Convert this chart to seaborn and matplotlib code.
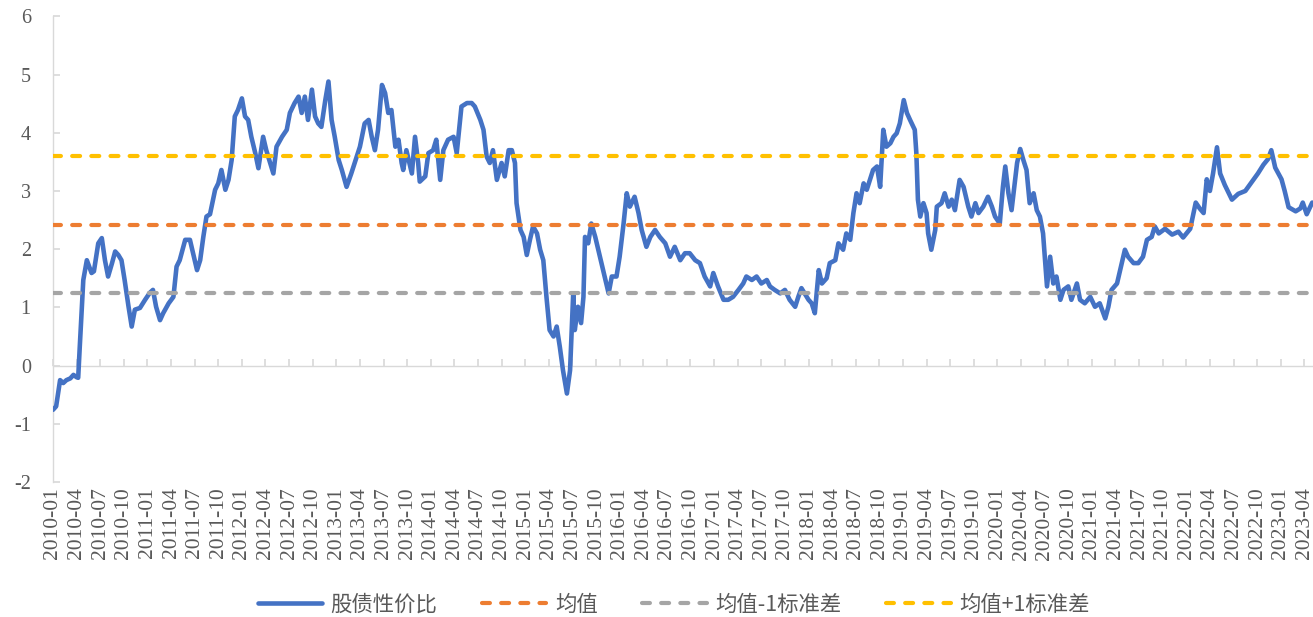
import matplotlib
matplotlib.use("Agg")
import matplotlib.pyplot as plt
import seaborn as sns

# months since 2010-01 and the ratio
t_month = [
    0.0, 0.4, 0.9, 1.3, 1.7, 2.2, 2.6, 3.0, 3.2, 3.4, 3.85, 4.3, 4.9, 5.2, 5.75, 6.2, 6.6, 7.0, 7.5, 7.9,
    8.3, 8.7, 9.1, 9.6, 10.0, 10.4, 11.05, 11.7, 12.3, 12.7, 13.1, 13.6, 14.0, 14.7, 15.3, 15.7, 16.1, 16.8,
    17.4, 17.8, 18.3, 18.7, 19.1, 19.5, 19.95,
    20.6, 21.0, 21.4, 21.9, 22.3, 22.7, 23.1, 23.5, 24.0, 24.4, 24.8, 25.2, 25.7, 26.1, 26.7, 27.1, 27.6,
    28.0, 28.4, 29.1, 29.7, 30.1, 30.7, 31.2, 31.6, 32.0, 32.4, 32.9, 33.3, 33.7, 34.1, 34.6, 35.0, 35.4,
    35.8, 36.3, 36.7, 37.3, 37.9, 38.6, 39.0, 39.6, 40.1,
    40.5, 40.9, 41.3, 41.8, 42.2, 42.6, 43.0, 43.5, 43.9, 44.3, 44.5, 44.9, 45.6, 46.0, 46.4, 46.6, 47.3,
    47.7, 48.3, 48.7, 49.2, 49.6, 50.2, 50.9, 51.3, 51.9, 52.6, 53.2, 53.6, 54.3, 54.7, 55.1, 55.5, 55.9,
    56.4, 57.0, 57.4, 57.9, 58.3, 58.7, 58.9, 59.4, 59.8, 60.2, 60.6,
    61.0, 61.5, 61.9, 62.3, 62.7, 63.1, 63.6, 64.0, 64.4, 64.8, 65.3, 65.7, 66.1, 66.3, 66.7, 67.1, 67.4,
    67.6, 68.0, 68.4, 68.9, 69.5, 70.1, 70.6, 71.0, 71.6, 72.0, 72.5, 72.9, 73.3, 73.9,
    74.4, 74.8, 75.4, 75.9, 76.5, 77.1, 77.8, 78.4, 79.0, 79.7, 80.3, 80.9, 81.6, 82.2, 82.8, 83.5, 83.9,
    84.5, 85.2, 85.8, 86.4, 87.1, 87.7, 88.1, 88.8, 89.4, 90.0, 90.7, 91.1, 91.7, 92.4, 93.0, 93.6, 94.3,
    94.7, 95.1, 95.5, 96.0, 96.4, 96.8, 97.3, 97.7, 98.3, 98.7,
    99.4, 99.8, 100.4, 100.8, 101.3, 101.7, 102.1, 102.5, 103.0, 103.4, 103.8, 104.2, 104.7, 105.1, 105.5,
    105.9, 106.4, 106.8, 107.2, 107.6, 108.1, 108.5, 108.9, 109.5, 109.7, 109.9, 110.2, 110.6, 111.0, 111.2,
    111.6, 112.1, 112.3, 112.9, 113.3, 113.8, 114.2, 114.6, 115.2, 115.7, 116.3, 116.7, 117.2, 117.6, 118.2,
    118.8, 119.3, 119.7, 120.3, 120.7, 121.0, 121.4, 121.8, 122.2, 122.5, 122.9, 123.3, 123.7,
    124.1, 124.6, 125.0, 125.4, 125.8, 126.3, 126.7, 127.1, 127.5, 128.0, 128.4, 129.0, 129.4, 130.1, 130.5,
    131.1, 131.8, 132.4, 133.0, 133.7, 134.1, 134.5, 135.2, 135.8, 136.2, 136.6, 137.3, 137.9, 138.5, 139.0,
    139.6, 140.0, 140.5,
    141.3, 142.2, 143.0, 143.6, 144.5, 145.2, 145.7, 146.2, 146.6, 147.0, 147.4, 147.9, 148.3, 148.9, 149.8,
    150.6, 151.5, 152.3, 153.1, 153.8, 154.4, 154.8, 155.3, 156.1, 156.5, 157.0, 157.9, 158.5, 158.8, 159.3,
    160.0,
]
ratio = [
    -0.76, -0.70, -0.25, -0.30, -0.25, -0.22, -0.16, -0.20, -0.21, 0.32, 1.47, 1.81, 1.59, 1.62, 2.10, 2.19,
    1.81, 1.53, 1.76, 1.96, 1.90, 1.81, 1.47, 1.01, 0.67, 0.96, 0.99, 1.13, 1.25, 1.30, 1.01, 0.78, 0.90,
    1.07, 1.18, 1.70, 1.81, 2.16, 2.16, 1.93, 1.64, 1.81, 2.21, 2.56, 2.60,
    3.02, 3.13, 3.36, 3.02, 3.19, 3.53, 4.28, 4.39, 4.59, 4.28, 4.22, 3.93, 3.65, 3.39, 3.93, 3.70, 3.48,
    3.30, 3.76, 3.93, 4.05, 4.34, 4.51, 4.62, 4.34, 4.62, 4.22, 4.74, 4.28, 4.16, 4.10, 4.56, 4.88, 4.22,
    3.93, 3.53, 3.36, 3.07, 3.30, 3.59, 3.76, 4.16, 4.22,
    3.93, 3.70, 4.05, 4.82, 4.68, 4.34, 4.39, 3.76, 3.88, 3.48, 3.36, 3.70, 3.30, 3.93, 3.48, 3.16, 3.25,
    3.65, 3.70, 3.88, 3.19, 3.70, 3.88, 3.93, 3.65, 4.45, 4.51, 4.51, 4.45, 4.22, 4.05, 3.59, 3.48, 3.70,
    3.19, 3.48, 3.25, 3.70, 3.70, 3.48, 2.79, 2.33, 2.21, 1.90, 2.16,
    2.39, 2.27, 1.99, 1.81, 1.18, 0.61, 0.50, 0.67, 0.32, -0.08, -0.48, -0.08, 1.24, 0.61, 1.01, 0.73, 1.18,
    2.21, 2.10, 2.44, 2.21, 1.87, 1.53, 1.24, 1.53, 1.53, 1.87, 2.44, 2.96, 2.73, 2.90,
    2.62, 2.33, 2.04, 2.21, 2.33, 2.21, 2.10, 1.87, 2.04, 1.81, 1.93, 1.93, 1.81, 1.76, 1.53, 1.36, 1.59,
    1.36, 1.13, 1.13, 1.18, 1.30, 1.41, 1.53, 1.47, 1.53, 1.41, 1.47, 1.36, 1.30, 1.24, 1.30, 1.13, 1.01,
    1.18, 1.33, 1.24, 1.13, 1.07, 0.90, 1.64, 1.41, 1.50, 1.76,
    1.81, 2.10, 1.99, 2.27, 2.16, 2.62, 2.96, 2.79, 3.13, 3.02, 3.19, 3.36, 3.42, 3.07, 4.05,
    3.76, 3.82, 3.93, 3.99, 4.16, 4.56, 4.34, 4.22, 4.05, 3.65, 2.85, 2.56, 2.79, 2.62, 2.27,
    1.99, 2.33, 2.73, 2.79, 2.96, 2.73, 2.85, 2.67, 3.19, 3.07, 2.73, 2.56, 2.79, 2.62, 2.73,
    2.90, 2.73, 2.56, 2.44, 3.07, 3.42, 2.96, 2.67, 3.13, 3.48, 3.72, 3.53, 3.36,
    2.79, 2.96, 2.67, 2.56, 2.27, 1.36, 1.87, 1.41, 1.53, 1.13, 1.30, 1.36, 1.13, 1.41, 1.13,
    1.07, 1.18, 1.01, 1.07, 0.81, 1.01, 1.30, 1.41, 1.76, 1.99, 1.87, 1.76, 1.76, 1.87, 2.16,
    2.21, 2.39, 2.27,
    2.35, 2.25, 2.30, 2.20, 2.35, 2.80, 2.70, 2.62, 3.20, 3.00, 3.30, 3.75, 3.30, 3.10, 2.85,
    2.95, 3.00, 3.15, 3.30, 3.45, 3.55, 3.70, 3.40, 3.20, 3.00, 2.72, 2.65, 2.70, 2.80, 2.60,
    2.80,
]

mean_val = 2.42
minus_1sd = 1.25
plus_1sd = 3.60

tick_pos = [3 * i for i in range(54)]
tick_labels = [f"{2010 + i // 4}-{(i % 4) * 3 + 1:02d}" for i in range(54)]

sns.set_theme(style="white")
plt.rcParams['font.family'] = ['Liberation Serif', 'Noto Sans CJK SC', 'DejaVu Sans']
plt.rcParams['axes.unicode_minus'] = False

fig = plt.figure(figsize=(13.13, 6.17), dpi=100)
ax = fig.add_axes([53 / 1313, 1 - 482 / 617, 1 - 53 / 1313, (482 - 16.3) / 617])

sns.lineplot(x=t_month, y=ratio, ax=ax, color='#4472C4', lw=3.3, label='股债性价比', zorder=3)

dash = (0, (1.9, 2.7))
for val, col, lab in [(mean_val, '#ED7D31', '均值'),
                      (minus_1sd, '#A5A5A5', '均值-1标准差'),
                      (plus_1sd, '#FFC000', '均值+1标准差')]:
    ax.axhline(val, color=col, lw=3, linestyle=dash, dash_capstyle='round', label=lab, zorder=4)

ax.set_xlim(0, 160.1)
ax.set_ylim(-2, 6)
ax.set_yticks(range(-2, 7))
ax.set_xticks(tick_pos)
ax.set_xticklabels(tick_labels, rotation=90)
ax.set_xlabel('')
ax.set_ylabel('')

for s in ['top', 'right', 'bottom']:
    ax.spines[s].set_visible(False)
ax.spines['left'].set_color('#d9d9d9')
ax.spines['left'].set_linewidth(1)

ax.tick_params(axis='y', direction='in', length=5, color='#d9d9d9', labelcolor='#595959',
               labelsize=14.5, pad=16, left=True)
ax.tick_params(axis='x', length=0, labelcolor='#595959', labelsize=15.5, pad=4)

# category axis crosses at zero
sec = ax.secondary_xaxis(0.25)
sec.set_xticks(tick_pos)
sec.tick_params(direction='in', length=5, color='#d9d9d9', labelbottom=False, bottom=True)
sec.spines['bottom'].set_color('#d9d9d9')
sec.spines['bottom'].set_linewidth(1)

ax.get_legend().remove()
handles, labels = ax.get_legend_handles_labels()
leg = fig.legend(handles, labels, loc='center', bbox_to_anchor=(0.513, 0.02), ncol=4,
                 frameon=False, handlelength=3.0, handletextpad=0.4, columnspacing=2.1,
                 prop={'family': ['Noto Sans CJK SC', 'DejaVu Sans'], 'size': 15.4})
for t in leg.get_texts():
    t.set_color('#595959')

fig.savefig('out.png', dpi=100)
